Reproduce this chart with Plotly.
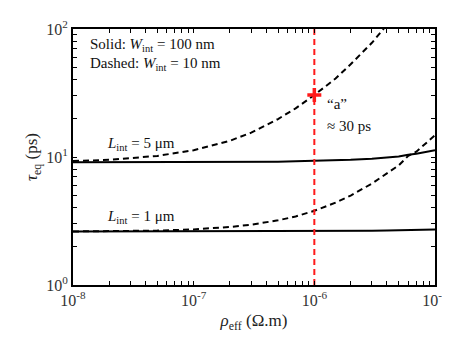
import plotly.graph_objects as go

# -----------------------------
# Data
# -----------------------------
rho = [1e-8, 2e-8, 5e-8, 1e-7, 2e-7, 3e-7, 5e-7, 7e-7, 1e-6,
       1.5e-6, 2e-6, 3e-6, 4e-6, 5e-6, 6e-6, 7e-6, 1e-5]

tau_L5_solid = [9.1, 9.1, 9.1, 9.12, 9.15, 9.17, 9.2, 9.25, 9.3,
                9.4, 9.5, 9.7, 9.9, 10.1, 10.4, 10.6, 11.3]
tau_L1_solid = [2.62, 2.62, 2.62, 2.62, 2.62, 2.63, 2.63, 2.63, 2.63,
                2.64, 2.64, 2.65, 2.66, 2.67, 2.68, 2.69, 2.72]
tau_L1_dashed = [2.62, 2.63, 2.66, 2.72, 2.84, 2.96, 3.2, 3.43, 3.8,
                 4.4, 5.0, 6.2, 7.4, 8.6, 10.2, 11.0, 14.8]

rho_L5_dashed = [1e-8, 2e-8, 5e-8, 1e-7, 2e-7, 3e-7, 5e-7, 7e-7, 1e-6,
                 1.5e-6, 2e-6, 3e-6, 4e-6]
tau_L5_dashed = [9.3, 9.5, 10.2, 11.3, 13.4, 15.5, 19.8, 24.0, 30.5,
                 41, 53, 78, 108]

rho_a = [1e-6]
tau_a = [30.5]

x_decades = [1e-8, 1e-7, 1e-6, 1e-5]
x_labels = ["10<sup>-8</sup>", "10<sup>-7</sup>", "10<sup>-6</sup>", "10<sup>-5</sup>"]
y_decades = [1, 10, 100]
y_labels = ["10<sup>0</sup>", "10<sup>1</sup>", "10<sup>2</sup>"]

FONT = "Liberation Serif"


def minor_ticks(decades):
    vals = []
    for d in decades[:-1]:
        vals += [d * m for m in range(2, 10)]
    return vals


fig = go.Figure()

fig.add_trace(go.Scatter(x=rho, y=tau_L5_solid, mode="lines",
                         line=dict(color="black", width=2)))
fig.add_trace(go.Scatter(x=rho, y=tau_L1_solid, mode="lines",
                         line=dict(color="black", width=2)))
fig.add_trace(go.Scatter(x=rho_L5_dashed, y=tau_L5_dashed, mode="lines",
                         line=dict(color="black", width=2, dash="6px,4px")))
fig.add_trace(go.Scatter(x=rho, y=tau_L1_dashed, mode="lines",
                         line=dict(color="black", width=2, dash="6px,4px")))

# red vertical marker at rho = 1e-6
fig.add_trace(go.Scatter(x=[rho_a[0], rho_a[0]], y=[y_decades[0], y_decades[-1]],
                         mode="lines",
                         line=dict(color="#ff1a1a", width=2, dash="6px,4px")))
fig.add_trace(go.Scatter(x=rho_a, y=tau_a, mode="markers",
                         marker=dict(symbol="cross-thin", size=10, color="#ff1a1a",
                                     line=dict(color="#ff1a1a", width=3.5))))

axis_common = dict(showgrid=False, zeroline=False, showline=True, linecolor="black",
                   linewidth=2, mirror="ticks", ticks="inside", ticklen=4,
                   tickcolor="black", tickwidth=1,
                   tickfont=dict(family=FONT, size=16, color="#333"))

fig.update_xaxes(type="log", range=[-8, -5], tickmode="array",
                 tickvals=x_decades, ticktext=x_labels,
                 minor=dict(tickmode="array", tickvals=minor_ticks(x_decades),
                            ticks="inside", ticklen=4, tickcolor="black", showgrid=False),
                 title=dict(text="<i>ρ</i><sub>eff</sub> (Ω.m)",
                            font=dict(family=FONT, size=17, color="#222"), standoff=6),
                 **axis_common)
fig.update_yaxes(type="log", range=[0, 2], tickmode="array",
                 tickvals=y_decades, ticktext=y_labels,
                 minor=dict(tickmode="array", tickvals=minor_ticks(y_decades),
                            ticks="inside", ticklen=4, tickcolor="black", showgrid=False),
                 title=dict(text="<i>τ</i><sub>eq</sub> (ps)",
                            font=dict(family=FONT, size=17, color="#222"), standoff=4),
                 **axis_common)

ann_font = dict(family=FONT, size=15, color="#111")
notes = [
    (80, 27, "Solid: <i>W</i><sub>int</sub> = 100 nm"),
    (80, 47, "Dashed: <i>W</i><sub>int</sub> = 10 nm"),
    (98, 130, "<i>L</i><sub>int</sub> = 5 μm"),
    (98, 206, "<i>L</i><sub>int</sub> = 1 μm"),
    (322, 88, "“a”"),
    (322, 111, "≈ 30 ps"),
]
for px, py, txt in notes:
    fig.add_annotation(x=(px - 65) / 369, y=1 - (py - 10) / 267, xref="paper", yref="paper",
                       text=txt, showarrow=False, xanchor="left", yanchor="middle",
                       font=ann_font)

fig.update_layout(
    width=450, height=342,
    margin=dict(l=65, r=16, t=10, b=65),
    plot_bgcolor="white", paper_bgcolor="white",
    font=dict(family=FONT),
    showlegend=False,
)

fig.write_html("out.html")
